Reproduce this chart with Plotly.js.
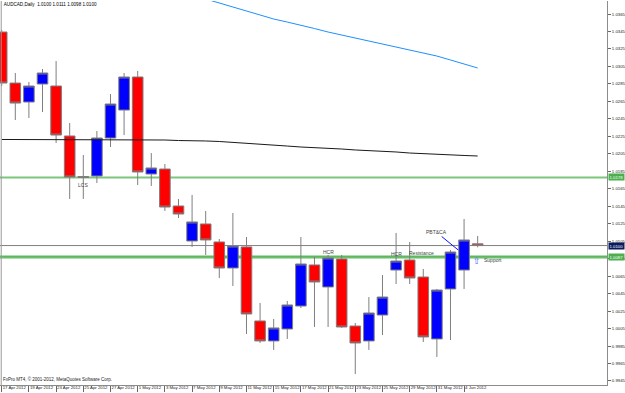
<!DOCTYPE html>
<html>
<head>
<meta charset="utf-8">
<script src="https://cdn.plot.ly/plotly-3.0.1.min.js"></script>
<style>html,body{margin:0;padding:0;background:#fff;}#chart{width:625px;height:393px;}</style>
</head>
<body>
<div id="chart"></div>
<script>
// ---- data ----
const dates = ["17 Apr 2012","18 Apr 2012","19 Apr 2012","20 Apr 2012","23 Apr 2012","24 Apr 2012",
  "25 Apr 2012","26 Apr 2012","27 Apr 2012","30 Apr 2012","1 May 2012","2 May 2012","3 May 2012",
  "4 May 2012","7 May 2012","8 May 2012","9 May 2012","10 May 2012","11 May 2012","14 May 2012",
  "15 May 2012","16 May 2012","17 May 2012","18 May 2012","21 May 2012","22 May 2012","23 May 2012",
  "24 May 2012","25 May 2012","28 May 2012","29 May 2012","30 May 2012","31 May 2012","1 Jun 2012",
  "4 Jun 2012","5 Jun 2012"];
const openP  = [1.03444,1.02860,1.02643,1.02849,1.02826,1.02254,1.01790,1.01796,1.02231,1.02551,1.02929,1.01819,
  1.01876,1.01453,1.01052,1.01247,1.01041,1.00743,1.00984,1.00137,0.99908,1.00045,1.00308,1.00778,
  1.00526,1.00846,1.00079,0.99908,1.00205,1.00720,1.00835,1.00640,0.99931,1.00503,1.00720,1.0102];
const highP  = [1.03467,1.02975,1.02872,1.03021,1.03112,1.02403,1.02036,1.02311,1.02734,1.02975,1.02998,1.02059,
  1.01933,1.01533,1.01579,1.01396,1.01075,1.01373,1.01098,1.00343,1.00160,1.00366,1.01098,1.00869,
  1.00892,1.00892,1.00114,1.00411,1.00663,1.01144,1.01041,1.00732,1.00503,1.00949,1.01304,1.0111];
const lowP   = [1.02826,1.02437,1.02460,1.02528,1.02174,1.01533,1.01533,1.01716,1.02128,1.02265,1.01693,1.01682,
  1.01396,1.01315,1.00984,1.00892,1.00629,1.00537,0.99988,0.99885,0.99805,0.99931,1.00285,1.00068,
  1.00068,1.00057,0.99530,0.99805,0.99976,1.00560,1.00560,0.99896,0.99725,0.99919,1.00503,1.0098];
const closeP = [1.02860,1.02631,1.02826,1.02975,1.02265,1.01785,1.01779,1.02231,1.02620,1.02929,1.01842,1.01888,
  1.01441,1.01361,1.01270,1.01064,1.00743,1.00995,1.00217,0.99908,1.00057,1.00320,1.00789,1.00583,
  1.00858,1.00068,0.99885,1.00228,1.00411,1.00823,1.00629,0.99954,1.00491,1.00926,1.01064,1.0100];
const maBlue = [null,null,null,null,null,null,null,null,null,null,null,null,null,null,null,
  1.03822,1.03776,1.03730,1.03684,1.03639,1.03593,1.03558,1.03524,1.03484,1.03444,1.03410,1.03375,
  1.03341,1.03307,1.03272,1.03238,1.03204,1.03169,1.03124,1.03078,1.03032];
const maBlack = [1.02214,1.02214,1.02214,1.02214,1.02208,1.02208,1.02208,1.02214,1.02214,1.02214,1.02214,1.02214,
  1.02208,1.02202,1.02202,1.02197,1.02191,1.02179,1.02168,1.02157,1.02145,1.02139,1.02128,1.02122,
  1.02111,1.02105,1.02094,1.02088,1.02076,1.02071,1.02059,1.02054,1.02042,1.02036,1.02031,1.02025];
const levelTop = 1.0178;      // upper green line
const levelBid = 1.0100;      // bid line
const levelSupport = 1.0087;  // lower green line (support)
const titleText = "AUDCAD,Daily  1.0100 1.0111 1.0098 1.0100";
const footerText = "FxPro MT4, \u00a9 2001-2012, MetaQuotes Software Corp.";
const labelNotes = [
  {text:"LCS", bar:6, price:1.01693},
  {text:"HCR", bar:24, price:1.00926},
  {text:"HCR", bar:29, price:1.00903},
  {text:"Resistance", bar:30.9, price:1.00915}
];

// ---- build ----
const xs = dates.map((d,i)=>i);
const tickIdx = xs.filter(i=>i%2===0);
const tickTxt = tickIdx.map(i=>dates[i]);
const FONT = "Liberation Sans, Arial, sans-serif";

const traces = [
  {type:'scatter', mode:'lines', x:xs, y:maBlack, line:{color:'#1a1a1a', width:1}, hoverinfo:'skip'},
  {type:'scatter', mode:'lines', x:xs, y:maBlue, line:{color:'#1e8fff', width:1}, hoverinfo:'skip'},
  {type:'candlestick', x:xs, open:openP, high:highP, low:lowP, close:closeP,
    increasing:{fillcolor:'#0000ff', line:{color:'#7f7f7f', width:1}},
    decreasing:{fillcolor:'#ff0000', line:{color:'#7f7f7f', width:1}},
    whiskerwidth:0, hoverinfo:'skip'}
];

const shapes = [
  {type:'line', xref:'paper', x0:0, x1:1, yref:'y', y0:levelBid, y1:levelBid, line:{color:'#808080', width:1}, layer:'below'},
  {type:'line', xref:'paper', x0:0, x1:1, yref:'y', y0:levelTop, y1:levelTop, line:{color:'#7cc67c', width:2}, layer:'below'},
  {type:'line', xref:'paper', x0:0, x1:1, yref:'y', y0:levelSupport, y1:levelSupport, line:{color:'#8fd48f', width:3.5}, layer:'below'},
  {type:'line', xref:'paper', x0:0, x1:1, yref:'y', y0:levelSupport, y1:levelSupport, line:{color:'#3fa23f', width:1}, layer:'below'},
  {type:'line', xref:'paper', x0:0.002, x1:0.002, yref:'paper', y0:0, y1:1, line:{color:'#9a9a9a', width:1}}
];

const annotations = labelNotes.map(n=>({x:n.bar, y:n.price, xref:'x', yref:'y', text:n.text, showarrow:false,
  font:{family:FONT, size:5, color:'#444'}}));
annotations.push({x:33.57, y:1.00949, xref:'x', yref:'y', ax:31.95, ay:1.01155, axref:'x', ayref:'y',
  text:'PBT&CA', showarrow:true, arrowhead:0, arrowwidth:1, arrowcolor:'#1010ff', standoff:0,
  font:{family:FONT, size:5, color:'#444'}});
annotations.push({x:34.95, y:1.00905, xref:'x', yref:'y', text:'\u21e7', showarrow:false, xanchor:'center', yanchor:'top',
  font:{family:'DejaVu Sans', size:9, color:'#5a5aff'}});
annotations.push({x:35.35, y:1.00835, xref:'x', yref:'y', text:'Support', showarrow:false, xanchor:'left', yanchor:'middle',
  font:{family:FONT, size:5, color:'#444'}});
annotations.push({x:0, y:0, xref:'paper', yref:'paper', xanchor:'left', yanchor:'bottom', xshift:1, yshift:1,
  text:footerText, showarrow:false, font:{family:FONT, size:4.5, color:'#222'}});
// price boxes on the right axis
[[levelTop,'#4cae4c'],[levelBid,'#0b1a5e'],[levelSupport,'#4cae4c']].forEach(([v,c])=>{
  annotations.push({x:1, y:v, xref:'paper', yref:'y', xanchor:'left', yanchor:'middle', xshift:1,
    text:v.toFixed(4), showarrow:false, bgcolor:c, borderpad:0.5,
    font:{family:FONT, size:4.3, color:'#ffffff'}});
});

const layout = {
  width:625, height:393,
  margin:{l:0, r:18, t:1, b:8, pad:0},
  paper_bgcolor:'#ffffff', plot_bgcolor:'#ffffff',
  showlegend:false,
  boxgap:0.22, boxgroupgap:0,
  title:{text:titleText, x:0.006, xanchor:'left', xref:'container', y:0.993, yanchor:'top',
    font:{family:FONT, size:4.6, color:'#000'}},
  xaxis:{type:'linear', range:[-0.125, 44.51], tickvals:tickIdx, ticktext:tickTxt, tickangle:0,
    ticklabelposition:'outside right', ticks:'outside', ticklen:6, tickcolor:'#666', tickwidth:1,
    ticklabelstandoff:-2,
    showline:true, linecolor:'#8c8c8c', linewidth:1, showgrid:false, zeroline:false,
    tickfont:{family:FONT, size:4.3, color:'#222'}, rangeslider:{visible:false}, fixedrange:true},
  yaxis:{side:'right', range:[0.99404, 1.03799], tick0:0.9945, dtick:0.002, tickformat:'.4f',
    ticks:'outside', ticklen:3, tickcolor:'#666', showline:true, linecolor:'#8c8c8c', linewidth:1,
    showgrid:false, zeroline:false, tickfont:{family:FONT, size:4.3, color:'#222'}, fixedrange:true},
  shapes:shapes,
  annotations:annotations
};

Plotly.newPlot('chart', traces, layout, {staticPlot:true, displayModeBar:false});
</script>
</body>
</html>
